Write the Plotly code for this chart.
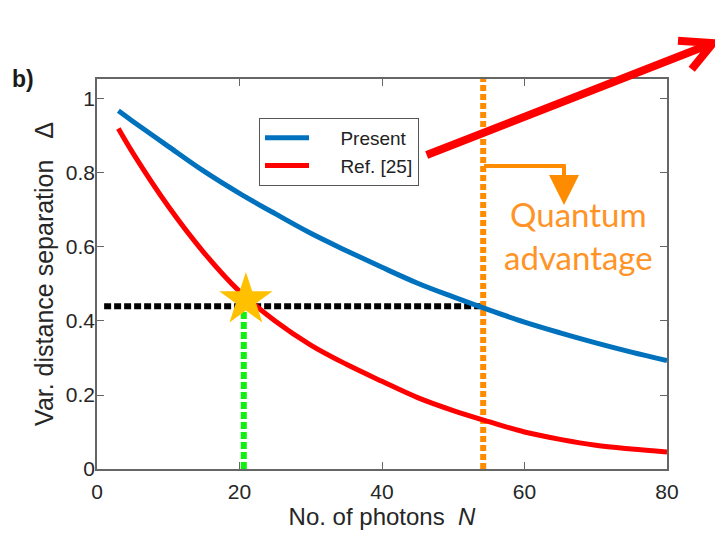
import plotly.graph_objects as go

# Data
N = [3, 5, 10, 15, 20, 25, 30, 35, 40, 45, 50, 55, 60, 65, 70, 75, 80]
present = [0.968, 0.94, 0.872, 0.805, 0.745, 0.69, 0.637, 0.59, 0.545, 0.502,
           0.465, 0.43, 0.397, 0.368, 0.341, 0.316, 0.293]
ref25 = [0.92, 0.855, 0.71, 0.585, 0.48, 0.40, 0.335, 0.283, 0.237, 0.193,
         0.158, 0.128, 0.10, 0.08, 0.064, 0.054, 0.046]

threshold = 0.44          # horizontal black dotted level
n_ref = 20.6              # green vertical (Ref. [25] crossing)
n_present = 54.2          # orange vertical (Present crossing)
star_pt = (20.9, 0.457)
x_ticks = [0, 20, 40, 60, 80]
y_ticks = [0, 0.2, 0.4, 0.6, 0.8, 1]
y_max = 1.054

NB = "\u00a0"

fig = go.Figure()

# Reference guide lines
fig.add_trace(go.Scatter(x=[1.0, n_present], y=[threshold, threshold], mode="lines",
                         line=dict(color="black", width=6, dash="7px,3px"),
                         showlegend=False, hoverinfo="skip"))
fig.add_trace(go.Scatter(x=[n_ref, n_ref], y=[0, threshold], mode="lines",
                         line=dict(color="#11EE11", width=6, dash="7px,3px"),
                         showlegend=False, hoverinfo="skip"))
fig.add_trace(go.Scatter(x=[n_present, n_present], y=[0, y_max], mode="lines",
                         line=dict(color="#FF8C00", width=6, dash="6px,3px"),
                         showlegend=False, hoverinfo="skip"))

fig.add_trace(go.Scatter(x=N, y=present, mode="lines", name=NB * 5 + "Present",
                         line=dict(color="#0072BD", width=5, shape="spline", smoothing=1.0)))
fig.add_trace(go.Scatter(x=N, y=ref25, mode="lines", name=NB * 5 + "Ref. [25]",
                         line=dict(color="#FF0000", width=5, shape="spline", smoothing=1.0)))

fig.add_trace(go.Scatter(x=[star_pt[0]], y=[star_pt[1]], mode="markers",
                         marker=dict(symbol="star", size=40, color="#FFC000",
                                     line=dict(width=0)),
                         showlegend=False, hoverinfo="skip", cliponaxis=False))

axis_common = dict(showline=True, linecolor="#666666", linewidth=1.5, mirror="ticks",
                   ticks="inside", ticklen=7, tickwidth=1.3, tickcolor="#666666",
                   showgrid=False, zeroline=False,
                   tickfont=dict(family="Liberation Sans, Arial", size=21, color="#262626"))

fig.update_xaxes(range=[0, 80], tickvals=x_ticks, ticktext=[str(v) for v in x_ticks],
                 ticklabelstandoff=3,
                 title=dict(text="No. of photons  <i>N</i>",
                            font=dict(family="Liberation Sans, Arial", size=24, color="#262626"),
                            standoff=4),
                 **axis_common)
fig.update_yaxes(range=[0, y_max], tickvals=y_ticks, ticktext=["0", "0.2", "0.4", "0.6", "0.8", "1"],
                 ticklabelstandoff=-4,
                 title=dict(text="Var. distance separation   Δ",
                            font=dict(family="Liberation Sans, Arial", size=25, color="#262626"),
                            standoff=5),
                 **axis_common)

# Big red arrow (paper coordinates, extends outside plot)
fig.add_shape(type="path", xref="paper", yref="paper",
              path="M 0.5784 0.8051 L 1.0787 1.0910 M 1.0193 1.0982 L 1.0807 1.0923 L 1.0433 1.0249",
              line=dict(color="#FF0000", width=8))

# Orange bracket arrow
br_y = (469 - 166) / 390
br_x = (564 - 97) / 570
fig.add_shape(type="line", xref="paper", yref="paper",
              x0=(484 - 97) / 570, x1=br_x + 0.003, y0=br_y, y1=br_y,
              line=dict(color="#FF8C00", width=4))
fig.add_annotation(xref="paper", yref="paper", x=br_x, y=(469 - 205) / 390,
                   ax=0, ay=-41, axref="pixel", ayref="pixel",
                   showarrow=True, arrowhead=2, arrowsize=1.5, arrowwidth=4,
                   arrowcolor="#FF8C00", text="")
fig.add_annotation(xref="paper", yref="paper", x=(578 - 97) / 570, y=(469 - 235) / 390,
                   xanchor="center", yanchor="middle",
                   text="Quantum<br>advantage", showarrow=False, align="center",
                   font=dict(family="Lato, Open Sans", size=33, color="#FF9326"))

fig.add_annotation(xref="paper", yref="paper", x=(23 - 97) / 570, y=(469 - 79) / 390,
                   xanchor="center", yanchor="middle",
                   text="<b>b)</b>", showarrow=False,
                   font=dict(family="Liberation Sans, Arial", size=23, color="#1a1a1a"))

fig.update_layout(
    width=715, height=537,
    margin=dict(l=97, r=48, t=79, b=68),
    plot_bgcolor="white", paper_bgcolor="white",
    legend=dict(x=(259 - 97) / 570, y=(469 - 118) / 390, xanchor="left", yanchor="top",
                bordercolor="#555555", borderwidth=1, bgcolor="white",
                font=dict(family="Liberation Sans, Arial", size=19, color="#222222"),
                itemwidth=44, tracegroupgap=0),
)

fig.write_html("out.html")
